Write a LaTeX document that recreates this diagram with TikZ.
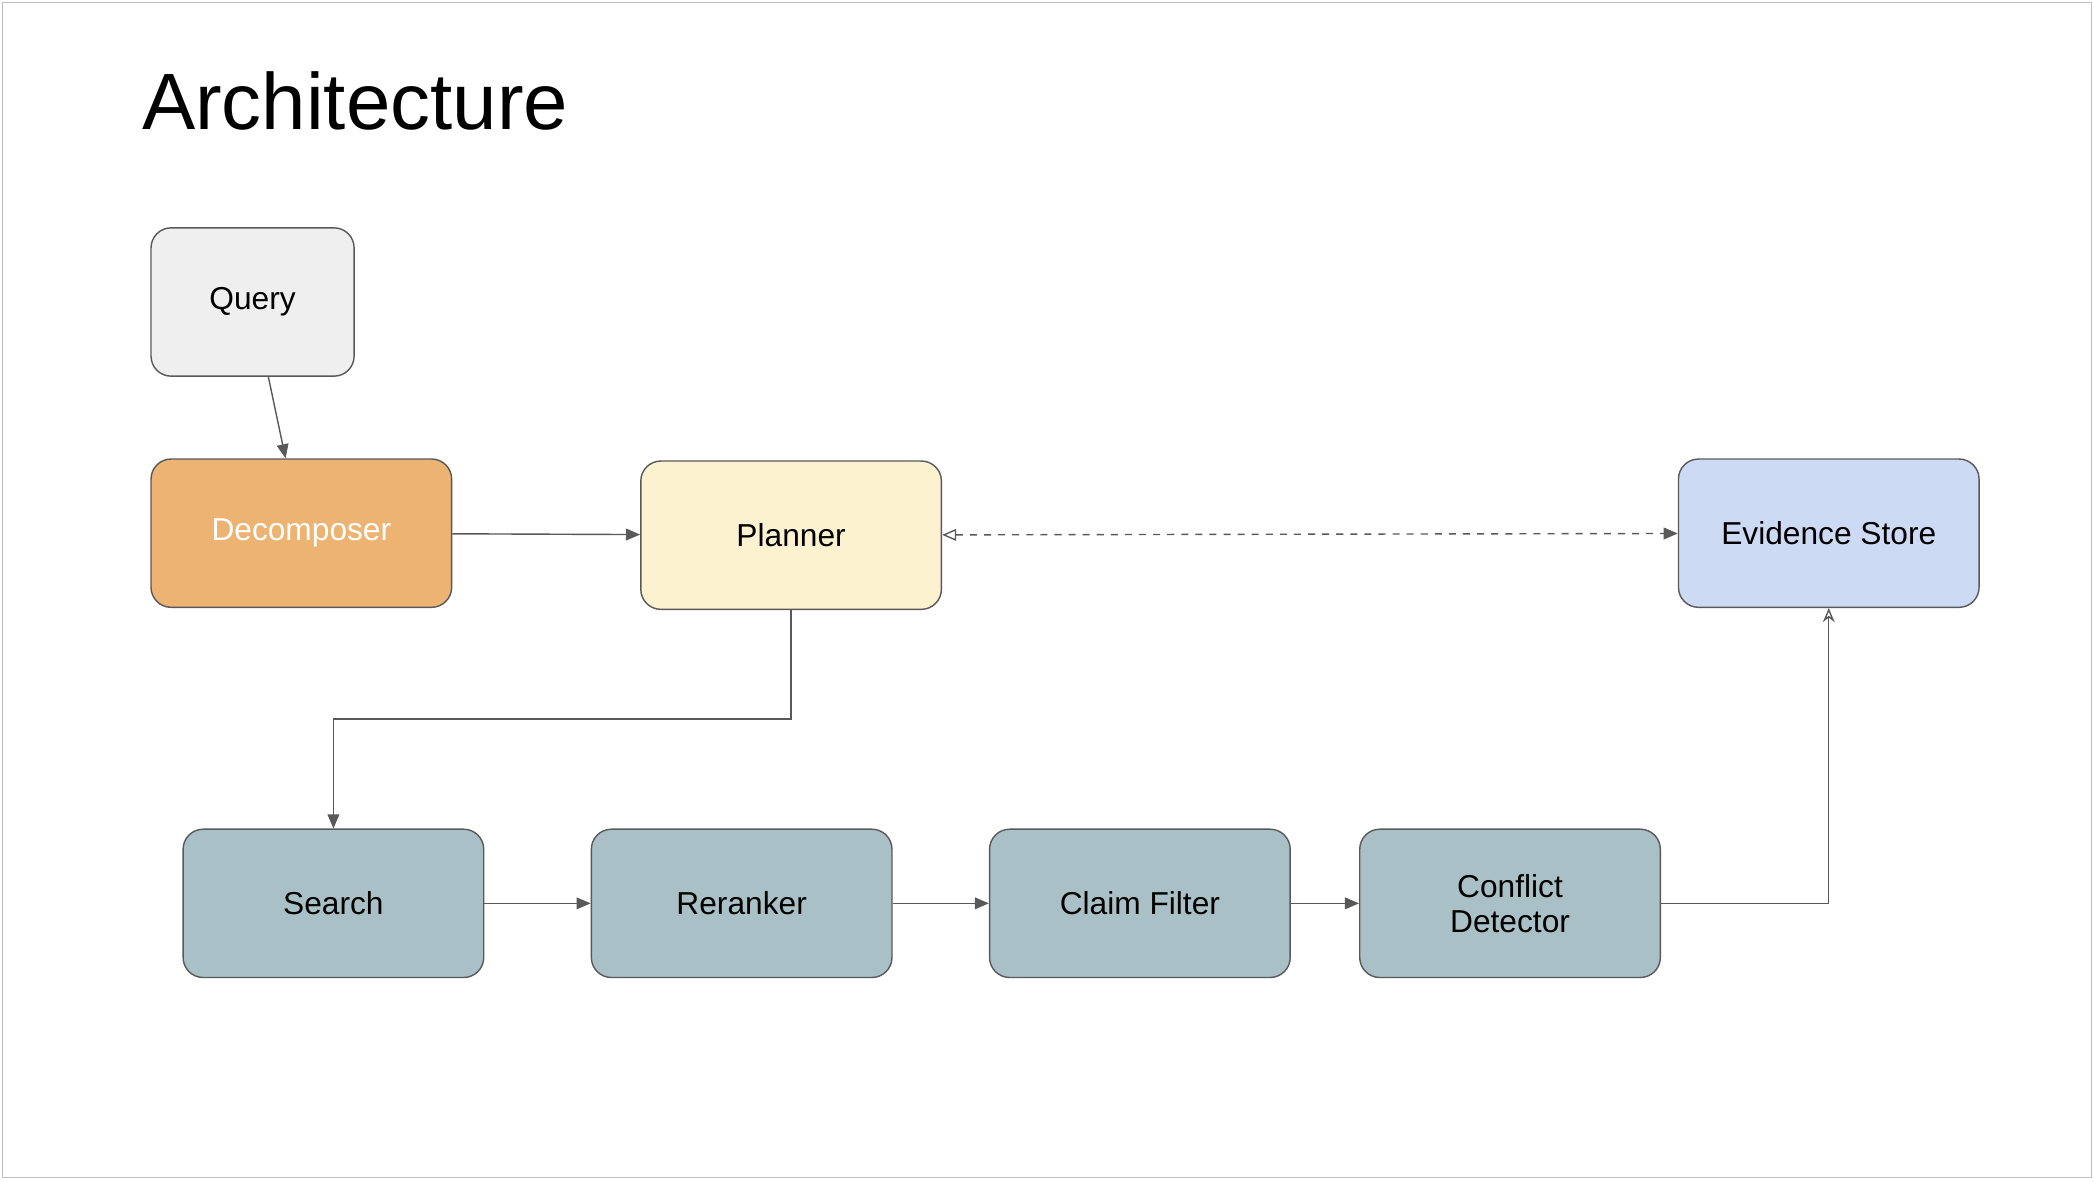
\documentclass[tikz,border=0pt]{standalone}
\usepackage{fontspec}
\setmainfont{Liberation Sans}
\usetikzlibrary{positioning,arrows.meta}
\definecolor{queryfill}{HTML}{EFEFEF}
\definecolor{decompfill}{HTML}{ECB373}
\definecolor{planfill}{HTML}{FDF2D0}
\definecolor{storefill}{HTML}{CDDAF3}
\definecolor{stagefill}{HTML}{A9C1C6}
\definecolor{edgecol}{HTML}{595959}
\begin{document}
\begin{tikzpicture}[x=0.02cm,y=-0.02cm]
        \tikzset{
          box/.style={draw=edgecol,line width=0.6pt,rounded corners=0.3cm,
            minimum width=4.5cm,minimum height=2.22cm,align=center,
            font=\fontsize{13.5}{15}\selectfont},
          flow/.style={draw=edgecol,line width=0.6pt,-{Triangle[length=6pt,width=5pt]}},
        }
        %FRAME
        \draw[black!25,line width=0.6pt] (2,2) rectangle (1565,881);
        \useasboundingbox (0,0) rectangle (1567,884);
        \node[anchor=base west,font=\fontsize{34}{38}\selectfont,inner sep=0] (title) at (106,97) {Architecture};

        %TOP ROW
        \node[box,fill=queryfill,minimum width=3.04cm] (query) at (189,226) {Query};
        \node[box,fill=decompfill,text=white] (decomp) at (225.5,399) {Decomposer};
        \node[box,fill=planfill] (planner) at (592,400.5) {Planner};
        \node[box,fill=storefill] (store) at (1368.5,399) {Evidence Store};

        %BOTTOM ROW
        \node[box,fill=stagefill] (search) at (249.5,676) {Search};
        \node[box,fill=stagefill] (rerank) at (555,676) {Reranker};
        \node[box,fill=stagefill] (claim) at (853,676) {Claim Filter};
        \node[box,fill=stagefill] (conflict) at (1130,676) {Conflict\\Detector};

        %CONNECTORS
        \draw[flow] (query) -- (decomp);
        \draw[flow] (decomp) -- (planner);
        \draw[flow,dashed,{Triangle[open,length=6pt,width=5pt]}-{Triangle[length=6pt,width=5pt]}] (planner) -- (store);
        \draw[flow] (planner.south) |- (250,538) -| (search.north);
        \draw[flow] (search) -- (rerank);
        \draw[flow] (rerank) -- (claim);
        \draw[flow] (claim) -- (conflict);
        \draw[flow,-{Stealth[open,length=6pt,width=5pt]}] (conflict.east) -| (store.south);
\end{tikzpicture}
\end{document}
